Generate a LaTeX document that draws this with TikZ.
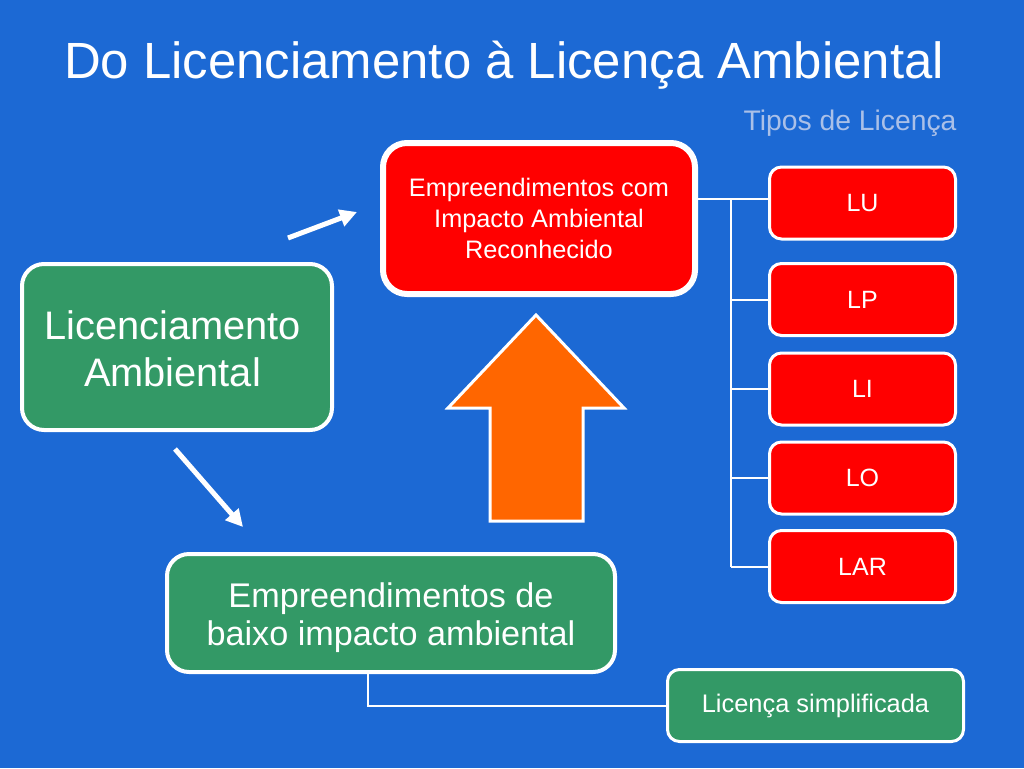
\documentclass[tikz,border=0pt]{standalone}
\usepackage{fontspec}
\setmainfont{Liberation Sans}
\usetikzlibrary{arrows.meta,calc}
\definecolor{bgblue}{RGB}{28,105,212}
\definecolor{boxred}{RGB}{255,0,0}
\definecolor{boxgreen}{RGB}{51,153,102}
\definecolor{arrorange}{RGB}{255,102,0}
\definecolor{subtitle}{RGB}{170,192,232}
\tikzset{
  redbig/.style={draw=white, line width=6pt, fill=boxred, rounded corners=24pt, inner sep=0pt,
    minimum width=312pt, minimum height=151pt, align=center, text=white,
    font=\fontsize{25.3}{31}\selectfont},
  redsmall/.style={draw=white, line width=3pt, fill=boxred, rounded corners=12pt, inner sep=0pt,
    minimum width=186pt, minimum height=72pt, text=white, font=\fontsize{25}{30}\selectfont},
  greenbox/.style={draw=white, line width=4pt, fill=boxgreen, rounded corners=22pt, inner sep=0pt,
    align=center, text=white},
  conn/.style={draw=white, line width=2pt},
  warrow/.style={draw=white, line width=5pt, -{Triangle[length=17pt,width=17pt]}},
}
\begin{document}
\begin{tikzpicture}[x=1pt,y=-1pt]
\fill[bgblue] (0,0) rectangle (1024,768);
\useasboundingbox (0,0) rectangle (1024,768);

\node[anchor=base, text=white, font=\fontsize{50.9}{60}\selectfont] (title) at (504,78) {Do Licenciamento à Licença Ambiental};
\node[anchor=base east, text=subtitle, font=\fontsize{28.3}{32}\selectfont] (tipos) at (960,130) {Tipos de Licença};

\node[redbig] (big) at (539,218.5) {Empreendimentos com\\Impacto Ambiental\\Reconhecido};

\node[redsmall] (lu) at (862.5,203) {LU};
\node[redsmall] (lp) at (862.5,299.5) {LP};
\node[redsmall] (li) at (862.5,389) {LI};
\node[redsmall] (lo) at (862.5,478) {LO};
\node[redsmall] (lar) at (862.5,566.5) {LAR};

\coordinate (trunk) at (731,199);
\draw[conn] (big.east |- trunk) -- (lu.west |- trunk);
\draw[conn] (trunk) -- (trunk |- lar.west);
\draw[conn] (trunk |- lp.west) -- (lp.west);
\draw[conn] (trunk |- li.west) -- (li.west);
\draw[conn] (trunk |- lo.west) -- (lo.west);
\draw[conn] (trunk |- lar.west) -- (lar.west);

\node[greenbox, minimum width=310pt, minimum height=166pt, font=\fontsize{39.8}{47}\selectfont] (lic) at (177,347) {};
\node[text=white, align=center, font=\fontsize{39.8}{47}\selectfont] (lictext) at (172.5,348.5) {Licenciamento\\Ambiental};

\node[greenbox, minimum width=448pt, minimum height=118pt, font=\fontsize{34.2}{38}\selectfont] (baixo) at (391,613) {};
\node[text=white, align=center, font=\fontsize{34.2}{38}\selectfont] (baixotext) at (391,618) {Empreendimentos de\\baixo impacto ambiental};

\node[greenbox, line width=3pt, rounded corners=12pt, minimum width=296pt, minimum height=72pt, font=\fontsize{25.4}{30}\selectfont] (simp) at (815.5,705.5) {Licença simplificada};

\coordinate (j) at (368,706);
\draw[conn] (baixo.south -| j) -- (j) -- (simp.west |- j);

\coordinate (a1s) at (288,238);
\coordinate (a1e) at (357,212);
\draw[warrow] (a1s) -- (a1e);
\coordinate (a2s) at (175,449);
\coordinate (a2e) at (243,527);
\draw[warrow] (a2s) -- (a2e);

\coordinate (ot) at (536,315);
\draw[draw=white, line width=3pt, fill=arrorange, line join=miter]
  (ot) -- (624,408) -- (583,408) -- (583,521) -- (490,521) -- (490,408) -- (448,408) -- cycle;
\end{tikzpicture}
\end{document}
